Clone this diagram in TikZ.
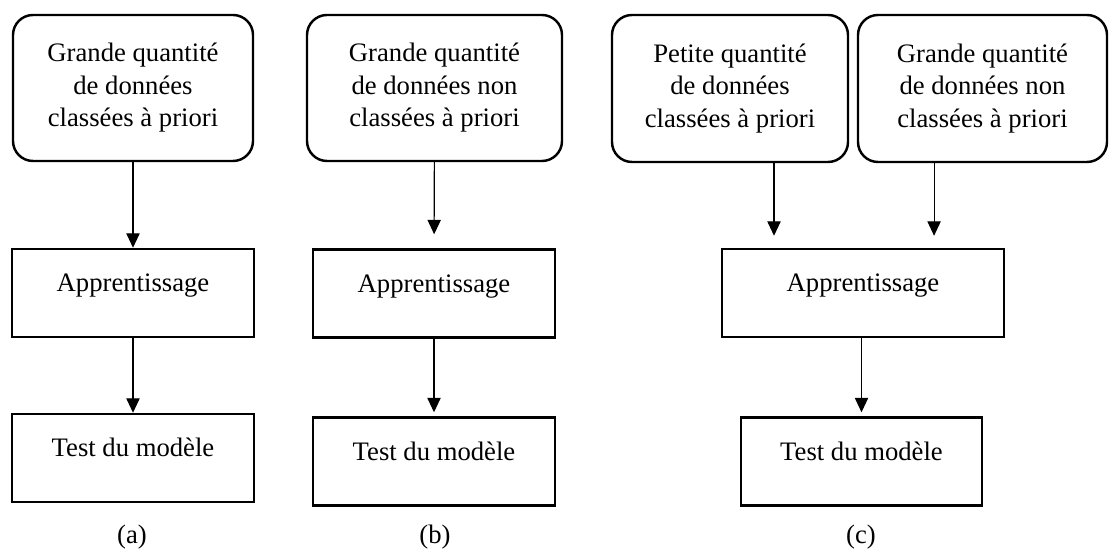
\documentclass[tikz,border=0pt]{standalone}
\usepackage{fontspec}
\setmainfont{Liberation Serif}
\usepackage{tikz}
\usetikzlibrary{arrows.meta}
\tikzset{
  font=\fontsize{12}{14.6}\selectfont,
  >={Triangle[width=6pt,length=6.5pt]},
  databox/.style={
    draw, line width=1.1pt, rounded corners=9pt, align=center,
    inner sep=0pt, minimum height=65.7pt
  },
  stagebox/.style={
    draw, line width=1.1pt, inner sep=0pt,
    text height=19.35pt, text depth=20.25pt
  },
  arr/.style={->, line width=0.5pt},
  caption/.style={inner sep=0pt}
}

\begin{document}
\begin{tikzpicture}[x=0.45pt,y=-0.45pt]
  \useasboundingbox (0,0) rectangle (1109,550);

  % (a)
  \node[databox,  minimum width=108pt]   (topA)  at (133,88)  {Grande quantité\\de données\\classées à priori};
  \node[stagebox, minimum width=108.9pt] (appA)  at (133,293) {Apprentissage};
  \node[stagebox, minimum width=108.9pt] (testA) at (133,458) {Test du modèle};
  \node[caption] (labA) at (132,537) {(a)};

  % (b)
  \node[databox,  minimum width=114.75pt] (topB)  at (434.5,88) {Grande quantité\\de données non\\classées à priori};
  \node[stagebox, minimum width=108.9pt]  (appB)  at (434,293.5) {Apprentissage};
  \node[stagebox, minimum width=108.9pt]  (testB) at (434,461.5) {Test du modèle};
  \node[caption] (labB) at (435,537) {(b)};

  % (c)
  \node[databox,  minimum width=106.2pt,  minimum height=66.15pt] (topC1) at (730,88.5)   {Petite quantité\\de données\\classées à priori};
  \node[databox,  minimum width=112.05pt, minimum height=66.15pt] (topC2) at (982.5,88.5) {Grande quantité\\de données non\\classées à priori};
  \node[stagebox, minimum width=126.9pt]  (appC)  at (863,293)    {Apprentissage};
  \node[stagebox, minimum width=108.45pt] (testC) at (861.5,461.5) {Test du modèle};
  \node[caption] (labC) at (861,537) {(c)};

  \draw[arr] (topA) -- (appA);
  \draw[arr] (appA) -- (testA);

  \draw[arr, shorten >=6.3pt] (topB) -- (appB);
  \draw[arr, shorten >=1.8pt] (appB) -- (testB);

  \draw[arr, shorten >=5.4pt] ([xshift=19.8pt]topC1.south) -- ([xshift=19.8pt]topC1.south |- appC.north);
  \draw[arr, shorten >=5.4pt] ([xshift=-21.8pt]topC2.south) -- ([xshift=-21.8pt]topC2.south |- appC.north);
  \draw[arr, shorten >=1.8pt] (appC.south -| testC.north) -- (testC);
\end{tikzpicture}
\end{document}
